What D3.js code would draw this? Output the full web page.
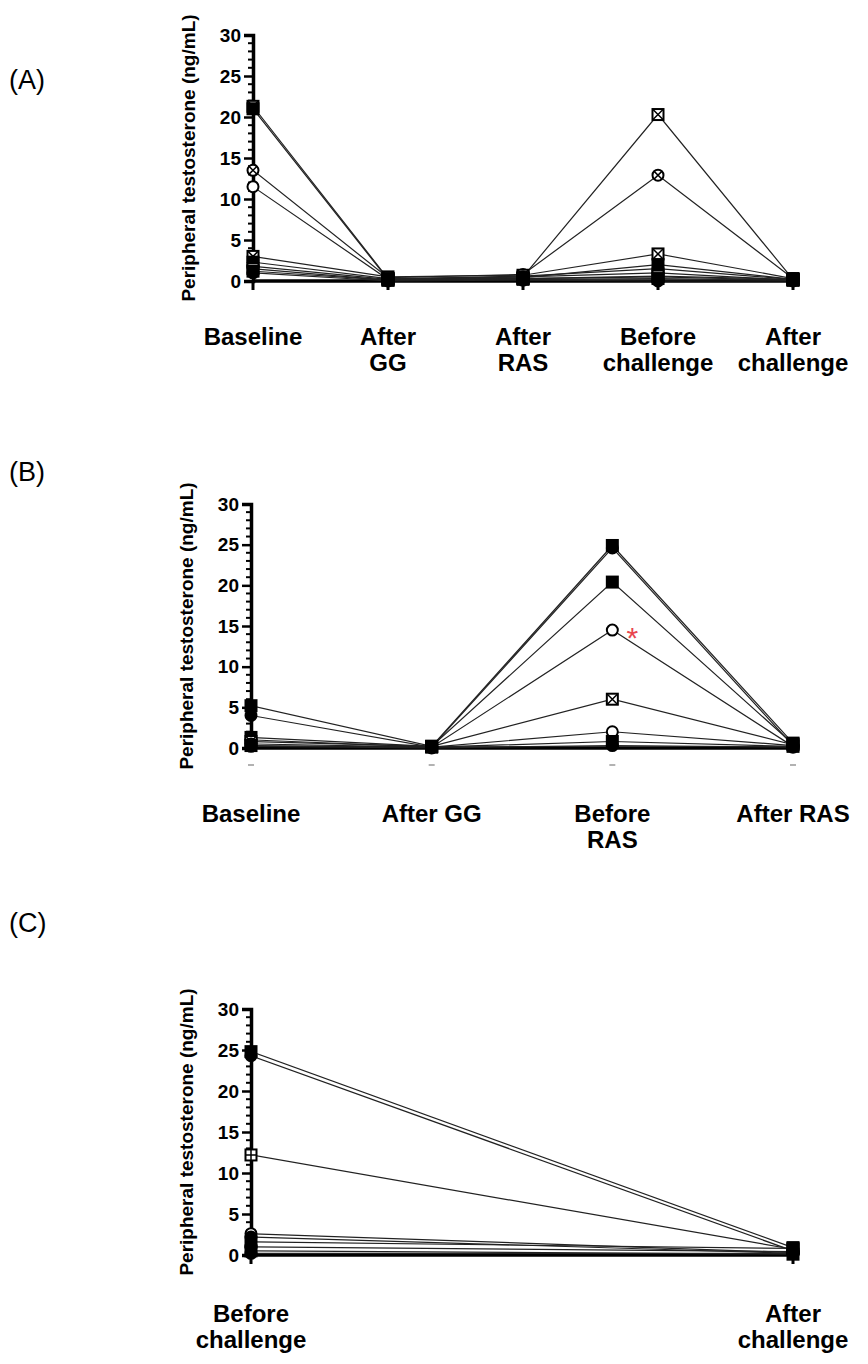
<!DOCTYPE html>
<html>
<head>
<meta charset="utf-8">
<title>Peripheral testosterone</title>
<script src="https://d3js.org/d3.v7.min.js"></script>
<style>
  body { margin: 0; background: #fff; }
  text { font-family: "Liberation Sans", Arial, sans-serif; }
</style>
</head>
<body>
<div id="chart"></div>
<script>
// ---- data (ng/mL), one row per animal ----
const yTicks = [0, 5, 10, 15, 20, 25, 30];

const catsA = ["Baseline", "After|GG", "After|RAS", "Before|challenge", "After|challenge"];
const seriesA = [
  [21.3, 0.3, 0.5, 20.3, 0.2],
  [21.0, 0.2, 0.3, 0.5, 0.1],
  [13.5, 0.4, 0.8, 12.9, 0.3],
  [11.5, 0.2, 0.6, 1.5, 0.2],
  [3.0, 0.5, 0.7, 3.3, 0.3],
  [2.3, 0.3, 0.4, 2.0, 0.2],
  [1.8, 0.2, 0.5, 1.0, 0.1],
  [1.5, 0.1, 0.3, 0.6, 0.2],
  [1.2, 0.1, 0.2, 0.3, 0.1],
  [1.0, 0.0, 0.1, 0.0, 0.0]
];
const shapesA = ["sqX", "sqFill", "circX", "circOpen", "sqX", "sqFill", "circFill", "sqOpen", "sqFill", "circFill"];

const catsB = ["Baseline", "After GG", "Before|RAS", "After RAS"];
const seriesB = [
  [5.2, 0.2, 24.9, 0.6],
  [4.0, 0.1, 24.6, 0.3],
  [1.3, 0.2, 20.4, 0.5],
  [1.0, 0.1, 14.5, 0.2],
  [0.8, 0.2, 6.0, 0.4],
  [0.5, 0.1, 2.0, 0.3],
  [0.3, 0.1, 0.8, 0.2],
  [0.2, 0.0, 0.3, 0.1]
];
const shapesB = ["sqFill", "circFill", "sqFill", "circOpen", "sqX", "circOpen", "sqFill", "circFill"];

const catsC = ["Before|challenge", "After|challenge"];
const seriesC = [
  [24.8, 0.9],
  [24.3, 0.5],
  [12.2, 0.7],
  [2.6, 0.3],
  [2.2, 0.2],
  [1.6, 0.8],
  [1.0, 0.4],
  [0.5, 0.1],
  [0.2, 0.2]
];
const shapesC = ["sqFill", "circFill", "sqPlus", "circOpen", "circFill", "sqFill", "circFill", "sqFill", "circFill"];

const W = 868, H = 1364;
const svg = d3.select("#chart").append("svg")
  .attr("width", W).attr("height", H);

function drawMarker(g, shape, x, y) {
  const s = 11, r = 5.5;
  const m = g.append("g").attr("transform", "translate(" + x + "," + y + ")");
  if (shape.startsWith("sq")) {
    m.append("rect").attr("x", -s / 2).attr("y", -s / 2).attr("width", s).attr("height", s)
      .attr("fill", shape === "sqFill" ? "#000" : "#fff")
      .attr("stroke", "#000").attr("stroke-width", 2);
  } else {
    m.append("circle").attr("r", r)
      .attr("fill", shape === "circFill" ? "#000" : "#fff")
      .attr("stroke", "#000").attr("stroke-width", 2);
  }
  if (shape === "sqX" || shape === "circX") {
    const k = shape === "sqX" ? s / 2 : r * 0.7;
    m.append("path").attr("d", `M${-k},${-k}L${k},${k}M${-k},${k}L${k},${-k}`)
      .attr("stroke", "#000").attr("stroke-width", 1.5);
  }
  if (shape === "sqPlus") {
    m.append("path").attr("d", `M0,${-s / 2}V${s / 2}M${-s / 2},0H${s / 2}`)
      .attr("stroke", "#000").attr("stroke-width", 1.5);
  }
}

function drawPanel(p) {
  const g = svg.append("g");
  const y = d3.scaleLinear().domain([0, 30]).range([p.y0, p.y30]);
  const x = d3.scalePoint().domain(p.cats).range([p.x0, p.x1]);

  // panel letter
  g.append("text").attr("x", 9).attr("y", p.letterY)
    .attr("font-size", 27).text(p.letter);

  // y axis title
  g.append("text")
    .attr("transform", "translate(" + (p.x0 - 58) + "," + ((p.y0 + p.y30) / 2) + ") rotate(-90)")
    .attr("text-anchor", "middle").attr("font-size", 19).attr("font-weight", "bold")
    .text("Peripheral testosterone (ng/mL)");

  // x axis (zero line) and category ticks
  g.append("line").attr("x1", p.x0).attr("x2", p.x1)
    .attr("y1", y(0)).attr("y2", y(0)).attr("stroke", "#000").attr("stroke-width", 3.5);
  p.cats.forEach(c => {
    if (p.faintTicks) {
      g.append("line").attr("x1", x(c) - 3).attr("x2", x(c) + 3)
        .attr("y1", y(0) + 17).attr("y2", y(0) + 17)
        .attr("stroke", "#999").attr("stroke-width", 1.5);
    } else {
      g.append("line").attr("x1", x(c)).attr("x2", x(c))
        .attr("y1", y(0)).attr("y2", y(0) + 9)
        .attr("stroke", "#000").attr("stroke-width", 3);
    }
  });

  // y axis
  const ax = g.append("g").attr("transform", "translate(" + p.x0 + ",0)")
    .call(d3.axisLeft(y).tickValues(yTicks).tickSize(9).tickPadding(3));
  ax.select(".domain").attr("stroke-width", 3.5);
  ax.selectAll(".tick line").attr("stroke-width", 2.5);
  ax.selectAll(".tick text").attr("font-size", 19).attr("font-weight", "bold")
    .attr("font-family", "'Liberation Sans', Arial, sans-serif").attr("fill", "#000");
  const minor = d3.range(1, 30).filter(v => v % 5 !== 0);
  g.append("g").selectAll("line").data(minor).join("line")
    .attr("x1", p.x0 - 5).attr("x2", p.x0)
    .attr("y1", d => y(d)).attr("y2", d => y(d))
    .attr("stroke", "#000").attr("stroke-width", 2);

  // subject lines
  const line = d3.line().x((d, i) => x(p.cats[i])).y(d => y(d));
  g.append("g").selectAll("path").data(p.series).join("path")
    .attr("d", line).attr("fill", "none")
    .attr("stroke", "#222").attr("stroke-width", 1.2);

  // markers
  p.series.forEach((row, si) => {
    row.forEach((v, i) => drawMarker(g, p.shapes[si], x(p.cats[i]), y(v)));
  });

  // category labels
  p.cats.forEach(c => {
    const t = g.append("text").attr("text-anchor", "middle")
      .attr("font-family", "'Open Sans', 'Noto Sans', sans-serif")
      .attr("font-size", 24).attr("font-weight", "bold");
    c.split("|").forEach((part, i) => {
      t.append("tspan").attr("x", x(c))
        .attr("y", p.labelY + i * 26).text(part);
    });
  });
  return {x, y, g};
}

drawPanel({letter: "(A)", letterY: 89, cats: catsA, series: seriesA, shapes: shapesA,
  x0: 253, x1: 793, y0: 281, y30: 35, labelY: 345});

const pB = drawPanel({letter: "(B)", letterY: 481, cats: catsB, series: seriesB, shapes: shapesB,
  x0: 251, x1: 793, y0: 748, y30: 504, labelY: 822, faintTicks: true});
// red asterisk next to the 14.5 ng/mL point
pB.g.append("text").attr("x", pB.x(catsB[2]) + 20).attr("y", pB.y(seriesB[3][2]) + 18)
  .attr("text-anchor", "middle").attr("font-size", 30).attr("fill", "#e8464e").text("*");

drawPanel({letter: "(C)", letterY: 932, cats: catsC, series: seriesC, shapes: shapesC,
  x0: 251, x1: 793, y0: 1255, y30: 1009, labelY: 1322});
</script>
</body>
</html>
